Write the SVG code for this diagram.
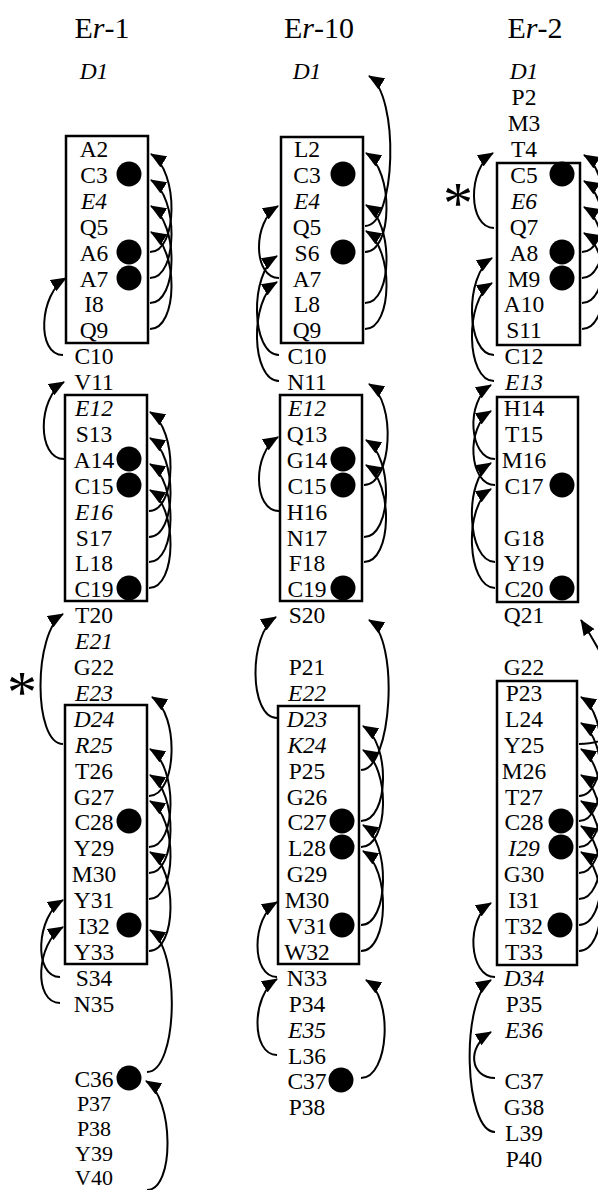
<svg xmlns="http://www.w3.org/2000/svg" width="598" height="1190" viewBox="0 0 598 1190">
<style>
.r{font-family:"Liberation Serif","Times New Roman",serif;font-size:23.5px;text-anchor:middle;fill:#000}
.s{font-size:22px}
.i{font-style:italic}
.ttl{font-family:"Liberation Serif","Times New Roman",serif;font-size:30px;text-anchor:middle;fill:#000}
.box{fill:none;stroke:#000;stroke-width:2.5}
.ss{fill:#000}
.hb{fill:none;stroke:#000;stroke-width:2;marker-end:url(#ah)}
.ast{font-family:"Liberation Serif","Times New Roman",serif;font-size:60px;text-anchor:middle;fill:#000}
</style>
<defs>
<marker id="ah" viewBox="0 0 16 13" refX="15" refY="6.5" markerWidth="16" markerHeight="13" markerUnits="userSpaceOnUse" orient="auto"><path d="M0,0 L16,6.5 L0,13 Z" fill="#000"/></marker>
</defs>
<rect width="598" height="1190" fill="#fff"/>

<!-- Er-1 -->
<g id="er1-title"><text class="ttl" x="102" y="38">E<tspan font-style="italic">r</tspan>-1</text></g>
<g id="er1-nterm"><text class="r i" x="94" y="79">D1</text></g>
<g id="er1-helix1">
<rect class="box" x="66" y="136" width="82" height="207"/>
<text class="r" x="94" y="157">A2</text>
<text class="r" x="94" y="183">C3</text>
<text class="r i" x="94" y="209">E4</text>
<text class="r" x="94" y="235">Q5</text>
<text class="r" x="94" y="261">A6</text>
<text class="r" x="94" y="287">A7</text>
<text class="r" x="94" y="312">I8</text>
<text class="r" x="94" y="338">Q9</text>
<circle class="ss" cx="129" cy="174" r="12.5"/>
<circle class="ss" cx="129" cy="252" r="12.5"/>
<circle class="ss" cx="129" cy="278" r="12.5"/>
</g>
<g id="er1-loop1">
<text class="r" x="94" y="364">C10</text>
<text class="r" x="94" y="390">V11</text>
</g>
<g id="er1-helix2">
<rect class="box" x="65" y="395" width="82" height="206"/>
<text class="r i" x="94" y="416">E12</text>
<text class="r" x="94" y="442">S13</text>
<text class="r" x="94" y="468">A14</text>
<text class="r" x="94" y="494">C15</text>
<text class="r i" x="94" y="520">E16</text>
<text class="r" x="94" y="546">S17</text>
<text class="r" x="94" y="571">L18</text>
<text class="r" x="94" y="597">C19</text>
<circle class="ss" cx="129" cy="459" r="12.5"/>
<circle class="ss" cx="129" cy="485" r="12.5"/>
<circle class="ss" cx="129" cy="588" r="12.5"/>
</g>
<g id="er1-loop2">
<text class="r" x="94" y="623">T20</text>
<text class="r i" x="94" y="649">E21</text>
<text class="r" x="94" y="675">G22</text>
<text class="r i" x="94" y="701">E23</text>
<text class="ast" x="22" y="712">*</text>
</g>
<g id="er1-helix3">
<rect class="box" x="65" y="705" width="82" height="259"/>
<text class="r i" x="94" y="727">D24</text>
<text class="r i" x="94" y="753">R25</text>
<text class="r" x="94" y="779">T26</text>
<text class="r" x="94" y="805">G27</text>
<text class="r" x="94" y="830">C28</text>
<text class="r" x="94" y="856">Y29</text>
<text class="r" x="94" y="882">M30</text>
<text class="r" x="94" y="908">Y31</text>
<text class="r" x="94" y="934">I32</text>
<text class="r" x="94" y="960">Y33</text>
<circle class="ss" cx="129" cy="821" r="12.5"/>
<circle class="ss" cx="129" cy="925" r="12.5"/>
</g>
<g id="er1-cterm">
<text class="r" x="94" y="986">S34</text>
<text class="r" x="94" y="1012">N35</text>
<text class="r" x="94" y="1087">C36</text>
<text class="r s" x="94" y="1111">P37</text>
<text class="r s" x="94" y="1136">P38</text>
<text class="r s" x="94" y="1160.5">Y39</text>
<text class="r s" x="94" y="1185">V40</text>
<circle class="ss" cx="129" cy="1078" r="12.5"/>
</g>

<!-- Er-10 -->
<g id="er10-title"><text class="ttl" x="319" y="38">E<tspan font-style="italic">r</tspan>-10</text></g>
<g id="er10-nterm"><text class="r i" x="307" y="79">D1</text></g>
<g id="er10-helix1">
<rect class="box" x="281" y="137" width="82" height="206"/>
<text class="r" x="307" y="157">L2</text>
<text class="r" x="307" y="183">C3</text>
<text class="r i" x="307" y="209">E4</text>
<text class="r" x="307" y="235">Q5</text>
<text class="r" x="307" y="261">S6</text>
<text class="r" x="307" y="287">A7</text>
<text class="r" x="307" y="312">L8</text>
<text class="r" x="307" y="338">Q9</text>
<circle class="ss" cx="343" cy="174" r="12.5"/>
<circle class="ss" cx="343" cy="252" r="12.5"/>
</g>
<g id="er10-loop1">
<text class="r" x="307" y="364">C10</text>
<text class="r" x="307" y="390">N11</text>
</g>
<g id="er10-helix2">
<rect class="box" x="280" y="395" width="82" height="206"/>
<text class="r i" x="307" y="416">E12</text>
<text class="r" x="307" y="442">Q13</text>
<text class="r" x="307" y="468">G14</text>
<text class="r" x="307" y="494">C15</text>
<text class="r" x="307" y="520">H16</text>
<text class="r" x="307" y="546">N17</text>
<text class="r" x="307" y="571">F18</text>
<text class="r" x="307" y="597">C19</text>
<circle class="ss" cx="343" cy="459" r="12.5"/>
<circle class="ss" cx="343" cy="485" r="12.5"/>
<circle class="ss" cx="343" cy="588" r="12.5"/>
</g>
<g id="er10-loop2">
<text class="r" x="307" y="623">S20</text>
<text class="r" x="307" y="675">P21</text>
<text class="r i" x="307" y="701">E22</text>
</g>
<g id="er10-helix3">
<rect class="box" x="278" y="706" width="81" height="258"/>
<text class="r i" x="307" y="727">D23</text>
<text class="r i" x="307" y="753">K24</text>
<text class="r" x="307" y="779">P25</text>
<text class="r" x="307" y="805">G26</text>
<text class="r" x="307" y="830">C27</text>
<text class="r" x="307" y="856">L28</text>
<text class="r" x="307" y="882">G29</text>
<text class="r" x="307" y="908">M30</text>
<text class="r" x="307" y="934">V31</text>
<text class="r" x="307" y="960">W32</text>
<circle class="ss" cx="342" cy="821" r="12.5"/>
<circle class="ss" cx="342" cy="847" r="12.5"/>
<circle class="ss" cx="342" cy="925" r="12.5"/>
</g>
<g id="er10-cterm">
<text class="r" x="307" y="986">N33</text>
<text class="r" x="307" y="1012">P34</text>
<text class="r i" x="307" y="1038">E35</text>
<text class="r" x="307" y="1064">L36</text>
<text class="r" x="307" y="1089">C37</text>
<text class="r" x="307" y="1115">P38</text>
<circle class="ss" cx="341" cy="1080" r="12.5"/>
</g>

<!-- Er-2 -->
<g id="er2-title"><text class="ttl" x="535" y="38">E<tspan font-style="italic">r</tspan>-2</text></g>
<g id="er2-nterm">
<text class="r i" x="524" y="79">D1</text>
<text class="r" x="524" y="105">P2</text>
<text class="r" x="524" y="131">M3</text>
<text class="r" x="524" y="157">T4</text>
<text class="ast" x="458" y="223">*</text>
</g>
<g id="er2-helix1">
<rect class="box" x="497" y="163" width="83" height="182"/>
<text class="r" x="524" y="183">C5</text>
<text class="r i" x="524" y="209">E6</text>
<text class="r" x="524" y="235">Q7</text>
<text class="r" x="524" y="261">A8</text>
<text class="r" x="524" y="287">M9</text>
<text class="r" x="524" y="312">A10</text>
<text class="r" x="524" y="338">S11</text>
<circle class="ss" cx="562" cy="174" r="12.5"/>
<circle class="ss" cx="562" cy="252" r="12.5"/>
<circle class="ss" cx="562" cy="278" r="12.5"/>
</g>
<g id="er2-loop1">
<text class="r" x="524" y="364">C12</text>
<text class="r i" x="524" y="390">E13</text>
</g>
<g id="er2-helix2">
<rect class="box" x="497" y="397" width="81" height="205"/>
<text class="r" x="524" y="416">H14</text>
<text class="r" x="524" y="442">T15</text>
<text class="r" x="524" y="468">M16</text>
<text class="r" x="524" y="494">C17</text>
<text class="r" x="524" y="546">G18</text>
<text class="r" x="524" y="571">Y19</text>
<text class="r" x="524" y="597">C20</text>
<circle class="ss" cx="562" cy="485" r="12.5"/>
<circle class="ss" cx="562" cy="588" r="12.5"/>
</g>
<g id="er2-loop2">
<text class="r" x="524" y="623">Q21</text>
<text class="r" x="524" y="675">G22</text>
</g>
<g id="er2-helix3">
<rect class="box" x="497" y="681" width="80" height="284"/>
<text class="r" x="524" y="701">P23</text>
<text class="r" x="524" y="727">L24</text>
<text class="r" x="524" y="753">Y25</text>
<text class="r" x="524" y="779">M26</text>
<text class="r" x="524" y="805">T27</text>
<text class="r" x="524" y="830">C28</text>
<text class="r i" x="524" y="856">I29</text>
<text class="r" x="524" y="882">G30</text>
<text class="r" x="524" y="908">I31</text>
<text class="r" x="524" y="934">T32</text>
<text class="r" x="524" y="960">T33</text>
<circle class="ss" cx="561" cy="821" r="12.5"/>
<circle class="ss" cx="561" cy="847" r="12.5"/>
<circle class="ss" cx="560" cy="925" r="12.5"/>
</g>
<g id="er2-cterm">
<text class="r i" x="524" y="986">D34</text>
<text class="r" x="524" y="1012">P35</text>
<text class="r i" x="524" y="1038">E36</text>
<text class="r" x="524" y="1089">C37</text>
<text class="r" x="524" y="1115">G38</text>
<text class="r" x="524" y="1141">L39</text>
<text class="r" x="524" y="1167">P40</text>
</g>

<g id="connectors">
<!-- Er-1 -->
<path class="hb" d="M150,252 C178,252 179,171 151,154"/>
<path class="hb" d="M150,278 C178,278 179,197 151,180"/>
<path class="hb" d="M150,303 C178,303 179,223 151,206"/>
<path class="hb" d="M150,329 C178,329 179,249 151,232"/>
<path class="hb" d="M63,355 C36,355 39,294 66,278"/>
<path class="hb" d="M64,459 C37,459 37,398 64,382"/>
<path class="hb" d="M149,511 C177,511 178,429 150,412"/>
<path class="hb" d="M149,537 C177,537 178,455 150,438"/>
<path class="hb" d="M149,562 C177,562 178,481 150,464"/>
<path class="hb" d="M149,588 C177,588 178,507 150,490"/>
<path class="hb" d="M63,744 C33,744 33,632 63,614"/>
<path class="hb" d="M149,796 C177,796 180,714 152,697"/>
<path class="hb" d="M149,847 C177,847 178,766 150,749"/>
<path class="hb" d="M149,873 C177,873 178,792 150,775"/>
<path class="hb" d="M149,899 C177,899 178,818 150,801"/>
<path class="hb" d="M149,951 C177,951 178,869 150,852"/>
<path class="hb" d="M147,1072 C178,1072 181,949 150,930"/>
<path class="hb" d="M147,1190 C175,1190 174,1098 146,1081"/>
<path class="hb" d="M60,977 C33,977 36,916 63,900"/>
<path class="hb" d="M60,1003 C33,1003 36,943 63,927"/>
<!-- Er-10 -->
<path class="hb" d="M365,226 C396,226 400,95 369,76"/>
<path class="hb" d="M365,252 C393,252 394,170 366,153"/>
<path class="hb" d="M365,303 C393,303 394,222 366,205"/>
<path class="hb" d="M365,329 C393,329 394,248 366,231"/>
<path class="hb" d="M279,278 C253,278 252,222 278,206"/>
<path class="hb" d="M279,355 C251,355 249,273 277,256"/>
<path class="hb" d="M279,381 C251,381 249,299 277,282"/>
<path class="hb" d="M364,485 C392,485 397,401 369,384"/>
<path class="hb" d="M364,537 C392,537 394,457 366,440"/>
<path class="hb" d="M364,562 C392,562 394,482 366,465"/>
<path class="hb" d="M279,511 C253,511 252,453 278,437"/>
<path class="hb" d="M277,718 C249,718 248,634 276,617"/>
<path class="hb" d="M361,770 C392,770 400,639 369,620"/>
<path class="hb" d="M361,821 C389,821 391,743 363,726"/>
<path class="hb" d="M361,847 C389,847 391,767 363,750"/>
<path class="hb" d="M361,925 C389,925 391,842 363,825"/>
<path class="hb" d="M361,951 C389,951 391,868 363,851"/>
<path class="hb" d="M277,977 C251,977 251,918 277,902"/>
<path class="hb" d="M277,1055 C251,1055 251,995 277,979"/>
<path class="hb" d="M361,1078 C389,1078 394,997 366,980"/>
<!-- Er-2 -->
<path class="hb" d="M494,228 C468,228 467,169 493,153"/>
<path class="hb" d="M582,252 C610,252 612,172 584,155"/>
<path class="hb" d="M582,278 C610,278 612,198 584,181"/>
<path class="hb" d="M582,303 C610,303 612,224 584,207"/>
<path class="hb" d="M582,329 C610,329 612,250 584,233"/>
<path class="hb" d="M494,355 C466,355 464,275 492,258"/>
<path class="hb" d="M494,381 C466,381 464,300 492,283"/>
<path class="hb" d="M495,459 C469,459 465,401 491,385"/>
<path class="hb" d="M495,485 C469,485 465,427 491,411"/>
<path class="hb" d="M495,562 C467,562 463,480 491,463"/>
<path class="hb" d="M495,588 C467,588 463,506 491,489"/>
<path class="hb" d="M579,744 C650,744 612,668 581,620"/>
<path class="hb" d="M579,796 C607,796 609,714 581,697"/>
<path class="hb" d="M579,821 C607,821 609,740 581,723"/>
<path class="hb" d="M579,847 C607,847 609,766 581,749"/>
<path class="hb" d="M579,873 C607,873 609,792 581,775"/>
<path class="hb" d="M579,899 C607,899 609,818 581,801"/>
<path class="hb" d="M579,925 C607,925 609,843 581,826"/>
<path class="hb" d="M579,951 C607,951 609,869 581,852"/>
<path class="hb" d="M495,977 C469,977 465,919 491,903"/>
<path class="hb" d="M495,1132 C464,1132 460,999 491,980"/>
<path class="hb" d="M495,1078 C470,1078 466,1047 491,1032"/>
</g>
</svg>
